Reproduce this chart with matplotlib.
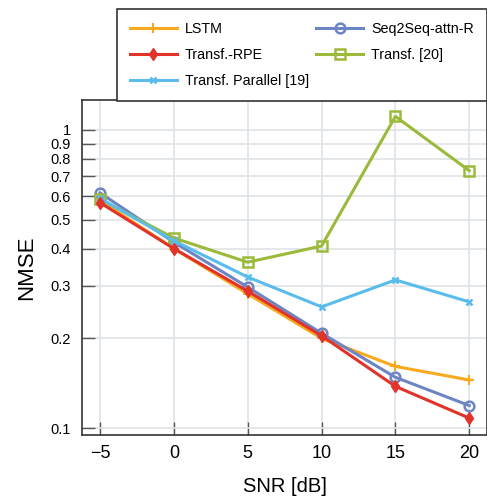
import matplotlib.pyplot as plt
import numpy as np

plt.rcParams['font.family'] = ['Liberation Sans', 'DejaVu Sans']

# SNR values and NMSE
snr = [-5, 0, 5, 10, 15, 20]
lstm = [0.58, 0.40, 0.282, 0.200, 0.161, 0.145]
seq2seq = [0.615, 0.42, 0.297, 0.208, 0.148, 0.119]
transf_rpe = [0.57, 0.40, 0.288, 0.204, 0.138, 0.108]
transf_20 = [0.585, 0.434, 0.36, 0.408, 1.11, 0.73]
transf_par = [0.59, 0.425, 0.321, 0.255, 0.314, 0.265]

colors = {'lstm': '#F9A91E', 'seq': '#6D85C4', 'rpe': '#E2332A',
          'tr20': '#9BBA3A', 'par': '#5ABCEB'}

fig = plt.figure(figsize=(4.87, 4.99), dpi=100)
ax = fig.add_axes([82 / 487, 1 - 435 / 499, 405 / 487, 335 / 499])

lw = 2.2
h1, = ax.plot(snr, lstm, color=colors['lstm'], lw=lw, marker='+', ms=7,
              mew=1.5, label='LSTM')
h2, = ax.plot(snr, seq2seq, color=colors['seq'], lw=lw, marker='o', ms=7,
              mfc='none', mew=1.8, label='Seq2Seq-attn-R')
h4, = ax.plot(snr, transf_20, color=colors['tr20'], lw=lw, marker='s', ms=7,
              mfc='none', mew=1.8, label='Transf. [20]')
h5, = ax.plot(snr, transf_par, color=colors['par'], lw=lw, marker='x', ms=5,
              mew=1.8, label='Transf. Parallel [19]')
h3, = ax.plot(snr, transf_rpe, color=colors['rpe'], lw=lw, marker='d', ms=6,
              label='Transf.-RPE')

ax.set_yscale('log')
ax.set_xlim(-6.22, 21.2)
ax.set_ylim(0.0948, 1.26)

yt = [0.1, 0.2, 0.3, 0.4, 0.5, 0.6, 0.7, 0.8, 0.9, 1]
ax.set_yticks(yt)
ax.set_yticklabels(['0.1', '0.2', '0.3', '0.4', '0.5', '0.6', '0.7', '0.8',
                    '0.9', '1'])
ax.yaxis.set_minor_locator(plt.NullLocator())
ax.set_xticks(snr)

ax.grid(True, color='#dfe4e8', lw=1.2)
ax.set_axisbelow(True)
ax.tick_params(direction='in', length=9.5, color='#555555', width=1)
ax.tick_params(axis='x', labelsize=13, pad=7)
ax.tick_params(axis='y', labelsize=10.5, pad=8)
for s in ax.spines.values():
    s.set_color('#333333')
    s.set_linewidth(1.2)

ax.set_xlabel('SNR [dB]', fontsize=14.5, labelpad=11)
ax.set_ylabel('NMSE', fontsize=16, labelpad=10)

leg = fig.legend([h1, h3, h5, h2, h4],
                 ['LSTM', 'Transf.-RPE', 'Transf. Parallel [19]',
                  'Seq2Seq-attn-R', 'Transf. [20]'],
                 ncol=2, loc='upper left', bbox_to_anchor=(117 / 487, 1 - 9 / 499),
                 borderaxespad=0, fontsize=10.3, fancybox=False,
                 edgecolor='#333333', framealpha=1, handlelength=3.3,
                 handletextpad=0.55, columnspacing=0.5,
                 borderpad=0.9, labelspacing=0.85)
leg.get_frame().set_linewidth(1.2)

fig.savefig('out.png', dpi=100)
